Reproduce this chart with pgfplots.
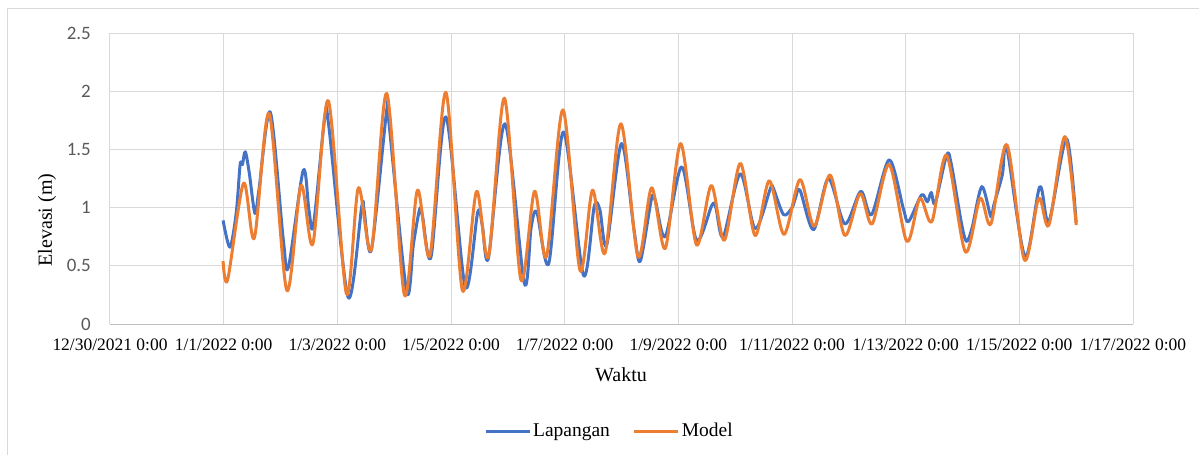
\documentclass[border=0pt]{standalone}
\usepackage{pgfplots}
\pgfplotsset{compat=1.18}
\usepackage{fontspec}
\setmainfont{Liberation Serif}
\newfontfamily\tnr{Liberation Serif}
\newfontfamily\carlito{Carlito}
\definecolor{exblue}{HTML}{4472C4}
\definecolor{exorange}{HTML}{ED7D31}
\definecolor{gridgray}{HTML}{D9D9D9}
\definecolor{axgray}{HTML}{BFBFBF}
\definecolor{lblgray}{HTML}{595959}
\begin{document}
\tnr
\begin{tikzpicture}[font=\tnr]
\begin{axis}[
  scale only axis,
  width=767.25pt, height=218.25pt,
  xmin=0, xmax=18, ymin=0, ymax=2.5,
  xtick={0,2,...,18},
  xticklabels={12/30/2021 0:00,1/1/2022 0:00,1/3/2022 0:00,1/5/2022 0:00,1/7/2022 0:00,1/9/2022 0:00,1/11/2022 0:00,1/13/2022 0:00,1/15/2022 0:00,1/17/2022 0:00},
  ytick={0,0.5,1,1.5,2,2.5},
  yticklabels={0,0.5,1,1.5,2,2.5},
  major tick length=0pt,
  xmajorgrids, ymajorgrids,
  grid style={draw=gridgray, line width=0.75pt},
  axis line style={draw=gridgray, line width=0.75pt},
  axis x line*=bottom,
  axis y line*=left,
  x axis line style={draw=axgray},
  xticklabel style={font=\tnr\fontsize{13.1pt}{15pt}\selectfont, inner sep=0pt, anchor=north, yshift=-11.25pt},
  yticklabel style={font=\carlito\fontsize{14.2pt}{16pt}\selectfont, text=lblgray, inner sep=0pt, anchor=east, xshift=-14.25pt},
  xlabel={Waktu},
  ylabel={Elevasi (m)},
  label style={font=\tnr\fontsize{15pt}{18pt}\selectfont},
  xlabel style={at={(axis description cs:0.4995,-0.1753)}, anchor=center, inner sep=0pt},
  ylabel style={at={(axis description cs:-0.0616,0.3574)}, anchor=center, inner sep=0pt},
  legend columns=2,
  legend style={at={(axis description cs:0.4882,-0.3677)}, anchor=center, draw=none, fill=none,
    font=\tnr\fontsize{14.6pt}{17pt}\selectfont, nodes={inner sep=1.5pt},
    /tikz/every even column/.style={column sep=15.75pt}},
  legend image code/.code={\draw[#1] (0pt,0pt) -- (33pt,0pt);},
  clip=false,
]
\addplot[exblue, line width=2.25pt, smooth, tension=0.5, line join=round] coordinates {
(1.99,0.89) (2.11,0.66) (2.22,0.95) (2.29,1.37) (2.33,1.37) (2.38,1.48) (2.45,1.30)
(2.55,0.95) (2.62,1.15) (2.82,1.82) (3.05,0.72) (3.14,0.49) (3.40,1.32) (3.50,0.98)
(3.58,0.85) (3.78,1.78) (3.85,1.70) (4.19,0.23) (4.43,1.01) (4.47,0.98) (4.60,0.64)
(4.87,1.84) (4.91,1.72) (5.22,0.28) (5.34,0.69) (5.45,0.99) (5.50,0.92) (5.65,0.58)
(5.91,1.78) (6.25,0.32) (6.47,0.96) (6.55,0.85) (6.66,0.57) (6.95,1.72) (7.29,0.35)
(7.41,0.83) (7.51,0.96) (7.72,0.52) (7.98,1.65) (8.33,0.42) (8.52,1.01) (8.62,0.98)
(8.74,0.68) (9.00,1.55) (9.22,0.81) (9.33,0.54) (9.53,1.08) (9.60,1.05) (9.77,0.75)
(10.06,1.35) (10.32,0.72) (10.59,1.02) (10.66,1.00) (10.79,0.75) (11.09,1.29)
(11.35,0.82) (11.61,1.15) (11.66,1.18) (11.85,0.94) (12.00,1.00) (12.06,1.08)
(12.14,1.15) (12.38,0.81) (12.64,1.25) (12.93,0.86) (13.21,1.14) (13.40,0.94)
(13.71,1.41) (13.96,0.99) (14.05,0.88) (14.28,1.11) (14.38,1.05) (14.45,1.13)
(14.52,1.04) (14.72,1.45) (14.80,1.38) (14.98,0.87) (15.07,0.71) (15.17,0.83)
(15.34,1.18) (15.50,0.92) (15.55,1.02) (15.70,1.28) (15.78,1.51) (16.10,0.58)
(16.36,1.18) (16.52,0.88) (16.83,1.59) (17.00,0.87)
};
\addlegendentry{Lapangan}
\addplot[exorange, line width=2.25pt, smooth, tension=0.5, line join=round] coordinates {
(1.99,0.54) (2.07,0.38) (2.35,1.21) (2.54,0.74) (2.80,1.81) (3.11,0.29) (3.36,1.19)
(3.57,0.69) (3.84,1.92) (4.16,0.26) (4.37,1.17) (4.60,0.64) (4.87,1.98) (5.18,0.25)
(5.41,1.15) (5.63,0.59) (5.91,1.99) (6.20,0.29) (6.45,1.14) (6.66,0.58) (6.94,1.94)
(7.23,0.38) (7.47,1.14) (7.68,0.58) (7.97,1.84) (8.27,0.46) (8.49,1.15) (8.71,0.61)
(8.99,1.72) (9.29,0.58) (9.53,1.17) (9.77,0.65) (10.04,1.55) (10.32,0.68) (10.58,1.19)
(10.81,0.72) (11.09,1.38) (11.35,0.76) (11.60,1.23) (11.86,0.77) (12.14,1.24)
(12.39,0.84) (12.67,1.28) (12.93,0.76) (13.20,1.12) (13.41,0.86) (13.71,1.37)
(14.02,0.71) (14.25,1.08) (14.46,0.88) (14.72,1.45) (15.05,0.62) (15.31,1.08)
(15.50,0.86) (15.78,1.54) (16.09,0.55) (16.34,1.08) (16.52,0.85) (16.80,1.61)
(17.00,0.85)
};
\addlegendentry{Model}
\end{axis}
\pgfresetboundingbox
\path[use as bounding box] (-82.5pt,-98.25pt) rectangle (816.75pt,243pt);
\draw[gridgray, line width=0.75pt] (-76.875pt,-98.25pt) -- (-76.875pt,236.6pt) -- (816.75pt,236.6pt);
\end{tikzpicture}
\end{document}
